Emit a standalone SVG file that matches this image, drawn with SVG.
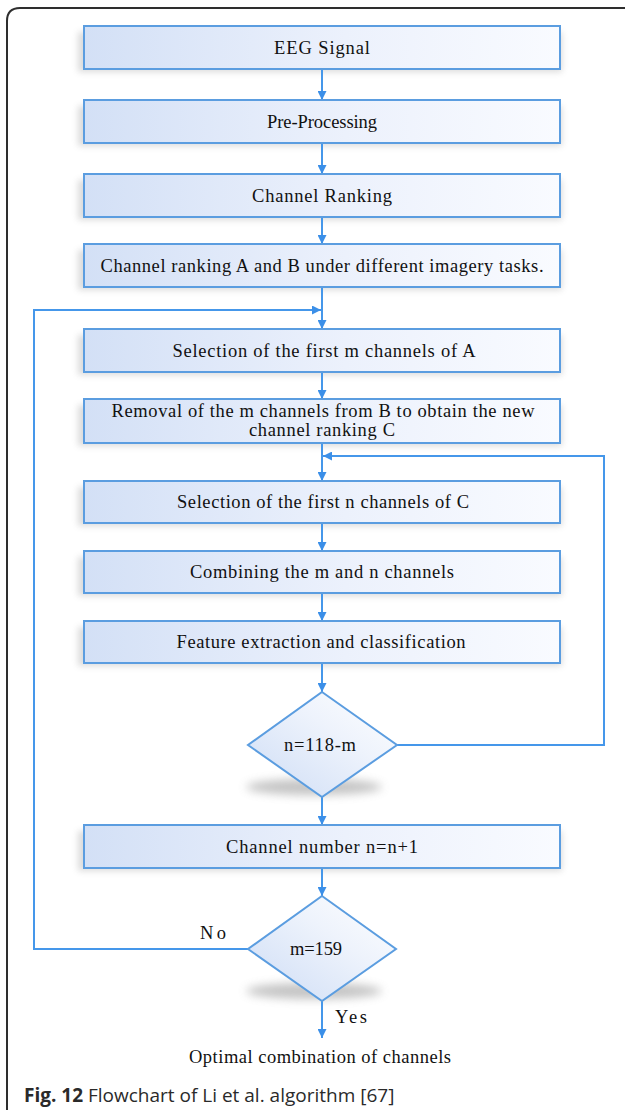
<svg xmlns="http://www.w3.org/2000/svg" width="625" height="1110" viewBox="0 0 625 1110">
  <defs>
    <linearGradient id="boxFill" x1="0" y1="0" x2="1" y2="0">
      <stop offset="0" stop-color="#d3e0f6"/>
      <stop offset="0.55" stop-color="#ecf1fc"/>
      <stop offset="1" stop-color="#f9fbff"/>
    </linearGradient>
    <linearGradient id="diaFill" x1="0" y1="1" x2="1" y2="0">
      <stop offset="0" stop-color="#cddcf5"/>
      <stop offset="0.6" stop-color="#eef3fc"/>
      <stop offset="1" stop-color="#ffffff"/>
    </linearGradient>
    <filter id="soft" x="-20%" y="-50%" width="140%" height="200%">
      <feGaussianBlur stdDeviation="3"/>
    </filter>
    <filter id="softer" x="-30%" y="-100%" width="160%" height="300%">
      <feGaussianBlur stdDeviation="5"/>
    </filter>
    <marker id="arrow" viewBox="0 0 10 10" refX="10" refY="5" markerWidth="9" markerHeight="9" markerUnits="userSpaceOnUse" orient="auto">
      <path d="M0,0 L10,5 L0,10 z" fill="#3b8fe8"/>
    </marker>
    <style>
      .box { fill: url(#boxFill); stroke: #5b9de0; stroke-width: 2; }
      .dia { fill: url(#diaFill); stroke: #5b9de0; stroke-width: 2; }
      .shadow { fill: #8a8a8a; opacity: 0.3; filter: url(#soft); }
      .dshadow { fill: #6d6d6d; opacity: 0.4; filter: url(#softer); }
      .lbl { font-family: "Liberation Serif", "Times New Roman", serif; font-size: 18.5px; fill: #111111; text-anchor: middle; }
      .conn line, .conn polyline { fill: none; stroke: #4597ea; stroke-width: 2; }
      .cap { font-family: "Open Sans", "Noto Sans", sans-serif; font-size: 19px; fill: #2a2a2a; }
    </style>
  </defs>

  <!-- outer frame -->
  <path d="M7,1115 L7,21 Q7,8 20,8 L630,8" fill="none" stroke="#2e2e2e" stroke-width="2"/>

  <!-- shadows -->
  <g id="shadows">
    <rect class="shadow" x="78" y="32" width="484" height="40"/>
    <rect class="shadow" x="78" y="106" width="484" height="40"/>
    <rect class="shadow" x="78" y="180" width="484" height="40"/>
    <rect class="shadow" x="78" y="250" width="484" height="40"/>
    <rect class="shadow" x="78" y="335" width="484" height="40"/>
    <rect class="shadow" x="78" y="405" width="484" height="41"/>
    <rect class="shadow" x="78" y="487" width="484" height="39"/>
    <rect class="shadow" x="78" y="557" width="484" height="39"/>
    <rect class="shadow" x="78" y="627" width="484" height="39"/>
    <rect class="shadow" x="78" y="831" width="484" height="40"/>
    <ellipse class="dshadow" cx="314" cy="787" rx="68" ry="8"/>
    <ellipse class="dshadow" cx="314" cy="991" rx="68" ry="8"/>
  </g>

  <!-- connectors -->
  <g class="conn" id="connectors">
    <line x1="322" y1="69" x2="322" y2="100" marker-end="url(#arrow)"/>
    <line x1="322" y1="143" x2="322" y2="174" marker-end="url(#arrow)"/>
    <line x1="322" y1="217" x2="322" y2="244" marker-end="url(#arrow)"/>
    <line x1="322" y1="287" x2="322" y2="329" marker-end="url(#arrow)"/>
    <line x1="322" y1="372" x2="322" y2="399" marker-end="url(#arrow)"/>
    <line x1="322" y1="443" x2="322" y2="481" marker-end="url(#arrow)"/>
    <line x1="322" y1="523" x2="322" y2="551" marker-end="url(#arrow)"/>
    <line x1="322" y1="593" x2="322" y2="621" marker-end="url(#arrow)"/>
    <line x1="322" y1="663" x2="322" y2="692" marker-end="url(#arrow)"/>
    <line x1="322" y1="797" x2="322" y2="825" marker-end="url(#arrow)"/>
    <line x1="322" y1="868" x2="322" y2="896" marker-end="url(#arrow)"/>
    <line x1="322" y1="1001" x2="322" y2="1038" marker-end="url(#arrow)"/>
    <!-- outer loop: m=159 "No" back to channel selection -->
    <polyline points="248,949 34,949 34,310 321,310" marker-end="url(#arrow)"/>
    <!-- inner loop: n=118-m back to selection of n channels -->
    <polyline points="397,745 604,745 604,456 323,456" marker-end="url(#arrow)"/>
  </g>

  <!-- nodes -->
  <g id="n-eeg">
    <rect class="box" x="84" y="26" width="476" height="43"/>
    <text class="lbl" x="322" y="54" textLength="96" lengthAdjust="spacing">EEG Signal</text>
  </g>
  <g id="n-pre">
    <rect class="box" x="84" y="100" width="476" height="43"/>
    <text class="lbl" x="322" y="128" textLength="110" lengthAdjust="spacing">Pre-Processing</text>
  </g>
  <g id="n-rank">
    <rect class="box" x="84" y="174" width="476" height="43"/>
    <text class="lbl" x="322" y="202" textLength="140" lengthAdjust="spacing">Channel Ranking</text>
  </g>
  <g id="n-rankab">
    <rect class="box" x="84" y="244" width="476" height="43"/>
    <text class="lbl" x="322" y="272" textLength="443" lengthAdjust="spacing">Channel ranking A and B under different imagery tasks.</text>
  </g>
  <g id="n-selm">
    <rect class="box" x="84" y="329" width="476" height="43"/>
    <text class="lbl" x="324" y="357" textLength="303" lengthAdjust="spacing">Selection of the first m channels of A</text>
  </g>
  <g id="n-remove">
    <rect class="box" x="84" y="399" width="476" height="44"/>
    <text class="lbl" x="323" y="417" textLength="423" lengthAdjust="spacing">Removal of the m channels from B to obtain the new</text>
    <text class="lbl" x="322" y="436" textLength="146" lengthAdjust="spacing">channel ranking C</text>
  </g>
  <g id="n-seln">
    <rect class="box" x="84" y="481" width="476" height="42"/>
    <text class="lbl" x="323" y="508" textLength="292" lengthAdjust="spacing">Selection of the first n channels of C</text>
  </g>
  <g id="n-combine">
    <rect class="box" x="84" y="551" width="476" height="42"/>
    <text class="lbl" x="322" y="578" textLength="264" lengthAdjust="spacing">Combining the m and n channels</text>
  </g>
  <g id="n-feature">
    <rect class="box" x="84" y="621" width="476" height="42"/>
    <text class="lbl" x="321" y="648" textLength="289" lengthAdjust="spacing">Feature extraction and classification</text>
  </g>
  <g id="n-cond-n">
    <polygon class="dia" points="322,692 397,745 322,797 248,745"/>
    <text class="lbl" x="320" y="751" textLength="72" lengthAdjust="spacing">n=118-m</text>
  </g>
  <g id="n-increment">
    <rect class="box" x="84" y="825" width="476" height="43"/>
    <text class="lbl" x="322" y="853" textLength="192" lengthAdjust="spacing">Channel number n=n+1</text>
  </g>
  <g id="n-cond-m">
    <polygon class="dia" points="322,896 396,949 322,1001 248,949"/>
    <text class="lbl" x="316" y="955" textLength="52" lengthAdjust="spacing">m=159</text>
  </g>
  <g id="labels">
    <text class="lbl" x="213" y="939" textLength="26" lengthAdjust="spacing">No</text>
    <text class="lbl" x="351" y="1023" textLength="32" lengthAdjust="spacing">Yes</text>
  </g>
  <g id="n-result">
    <text class="lbl" x="320" y="1063" textLength="262" lengthAdjust="spacing">Optimal combination of channels</text>
  </g>

  <!-- caption -->
  <text class="cap" x="24" y="1102"><tspan font-weight="bold">Fig. 12</tspan> Flowchart of Li et al. algorithm [67]</text>
</svg>
